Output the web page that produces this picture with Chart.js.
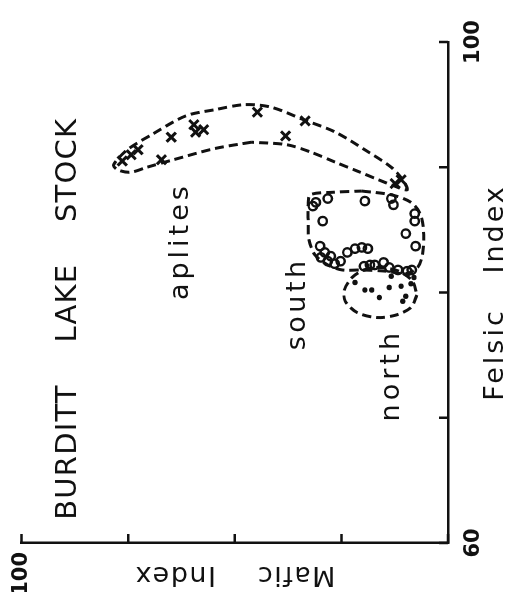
<!doctype html>
<html lang="en">
  <head>
    <meta charset="utf-8">
    <title>Burditt Lake Stock</title>
    <style>
      * { margin: 0; padding: 0; }
      body { width: 506px; height: 592px; overflow: hidden; background: #fff; position: relative; }
      /* the scan is turned a quarter turn: draw the chart upright, then rotate it */
      .turned {
        position: absolute; left: 0; top: 0;
        width: 592px; height: 506px;
        transform-origin: 0 0;
        transform: translate(0, 592px) rotate(-90deg);
      }
    </style>
  </head>
  <body>
    <div class="turned">
      <canvas id="myChart" width="592" height="506"></canvas>
    </div>
    <script src="https://cdn.jsdelivr.net/npm/chart.js"></script>
    <script>
    // axes
    const felsicTicks = [60, 70, 80, 90, 100];
    const felsicTickLabels = ['60', '', '', '', '100'];
    const maficTicks = [0, 25, 50, 75, 100];
    const maficTickLabels = ['', '', '', '', '100'];

    // aplites (x)
    const aplitesFelsic = [90.5, 91.0, 91.4, 90.6, 92.4, 93.4, 92.8, 93.0, 94.4, 93.7, 92.5, 88.7, 89.0];
    const aplitesMafic  = [76.4, 74.3, 72.7, 67.2, 64.9, 59.6, 59.2, 57.3, 44.7, 33.5, 38.1, 12.4, 11.0];

    // south (open circles)
    const southFelsic = [87.2, 87.5, 86.9, 87.3, 87.5, 87.0, 86.3, 85.7, 84.7, 83.7, 85.7, 83.7, 83.2, 82.8, 82.5,
                         82.3, 82.5, 82.9, 83.2, 83.5, 83.6, 83.5, 82.1, 82.2, 82.2, 82.4, 82.0, 81.8, 81.7, 81.8];
    const southMafic  = [31.0, 28.2, 31.7, 19.5, 13.3, 12.8, 7.8, 7.8, 9.9, 7.6, 29.4, 30.0, 28.9, 29.8, 28.2,
                         26.6, 25.2, 27.5, 23.6, 21.8, 20.2, 18.8, 19.7, 18.3, 17.2, 15.1, 13.8, 11.7, 9.6, 8.5];

    // north (dots)
    const northFelsic = [80.8, 80.2, 80.2, 79.6, 80.4, 80.5, 79.7, 81.3, 81.2, 80.7, 79.3];
    const northMafic  = [21.8, 19.5, 17.9, 16.1, 13.8, 11.0, 9.9, 13.3, 8.0, 8.7, 10.6];

    // dashed outlines round each group
    const aplitesLoopFelsic = [92.0, 91.5, 90.6, 90.0, 89.6, 89.8, 90.2, 91.4, 92.6, 94.1, 94.6, 95.0, 94.8,
                               93.8, 92.8, 91.2, 90.0, 89.0, 88.2, 88.6, 89.0, 89.7, 90.4, 91.2, 91.8, 92.0];
    const aplitesLoopMafic  = [46.1, 54.6, 64.4, 70.6, 74.5, 77.5, 78.4, 75.2, 69.5, 61.5, 54.6, 47.7, 41.5,
                               33.9, 26.4, 18.6, 13.3, 10.6, 9.6, 13.3, 16.3, 21.3, 26.4, 32.1, 37.8, 46.1];
    const southLoopFelsic = [88.1, 87.8, 87.2, 86.2, 84.6, 83.0, 82.0, 81.5, 81.7, 81.8, 81.8,
                             82.2, 83.0, 84.2, 85.8, 87.0, 87.8, 88.0, 88.1];
    const southLoopMafic  = [20.2, 13.3, 8.7, 6.4, 5.7, 6.0, 7.1, 9.9, 14.4, 20.2, 24.8,
                             28.2, 31.2, 32.6, 32.8, 32.8, 32.3, 27.1, 20.2];
    const northLoopFelsic = [79.8, 78.8, 78.2, 78.0, 78.4, 79.3, 80.2, 81.2, 81.8, 82.0, 81.7, 80.9, 79.8];
    const northLoopMafic  = [7.3, 8.7, 12.2, 16.7, 21.3, 24.1, 24.3, 22.5, 19.7, 16.1, 11.5, 8.3, 7.3];

    const ink = '#111';
    const face = "'DejaVu Sans', sans-serif";

    const pairs = (xs, ys) => xs.map((v, i) => ({ x: v, y: ys[i] }));

    const loopStyle = {
      showLine: true,
      pointRadius: 0,
      pointHoverRadius: 0,
      borderColor: ink,
      borderWidth: 3,
      borderDash: [9, 5],
      tension: 0.3,
      fill: false
    };

    const data = {
      datasets: [
        { label: 'aplites', data: pairs(aplitesFelsic, aplitesMafic), pointStyle: 'crossRot',
          pointRadius: 6.5, borderColor: ink, borderWidth: 3 },
        { label: 'south', data: pairs(southFelsic, southMafic), pointStyle: 'circle',
          pointRadius: 4.2, borderColor: ink, backgroundColor: 'rgba(0,0,0,0)', borderWidth: 2.4 },
        { label: 'north', data: pairs(northFelsic, northMafic), pointStyle: 'circle',
          pointRadius: 2.7, borderColor: ink, backgroundColor: ink, borderWidth: 0 },
        { label: 'aplites outline', data: pairs(aplitesLoopFelsic, aplitesLoopMafic), ...loopStyle },
        { label: 'south outline', data: pairs(southLoopFelsic, southLoopMafic), ...loopStyle },
        { label: 'north outline', data: pairs(northLoopFelsic, northLoopMafic), ...loopStyle }
      ]
    };

    // words written inside the plot, placed in data units
    const notes = [
      { text: 'BURDITT    LAKE    STOCK', felsic: 77.9, mafic: 87.2, size: 29, spacing: 1.2 },
      { text: 'aplites', felsic: 84.1, mafic: 61.0, size: 27, spacing: 4 },
      { text: 'south', felsic: 79.1, mafic: 33.5, size: 27, spacing: 3.5 },
      { text: 'north', felsic: 73.4, mafic: 11.5, size: 27, spacing: 4 }
    ];

    // tick marks point into the plot
    const innerTicks = {
      id: 'innerTicks',
      afterDatasetsDraw(chart) {
        const { ctx, chartArea: a, scales: { x, y } } = chart;
        ctx.save();
        ctx.strokeStyle = ink;
        ctx.lineWidth = 2.5;
        ctx.beginPath();
        felsicTicks.forEach(v => {
          const px = x.getPixelForValue(v);
          ctx.moveTo(px, a.bottom);
          ctx.lineTo(px, a.bottom - 9);
        });
        maficTicks.forEach(v => {
          const py = y.getPixelForValue(v);
          ctx.moveTo(a.left, py);
          ctx.lineTo(a.left + 9, py);
        });
        ctx.stroke();
        ctx.restore();
      }
    };

    const words = {
      id: 'words',
      afterDraw(chart) {
        const { ctx, chartArea: a, scales: { x, y } } = chart;
        ctx.save();
        ctx.fillStyle = ink;
        ctx.textAlign = 'center';
        ctx.textBaseline = 'alphabetic';
        notes.forEach(n => {
          ctx.font = n.size + 'px ' + face;
          ctx.letterSpacing = n.spacing + 'px';
          ctx.fillText(n.text, x.getPixelForValue(n.felsic), y.getPixelForValue(n.mafic));
        });
        // axis titles
        ctx.font = '27px ' + face;
        ctx.letterSpacing = '3px';
        ctx.fillText('Felsic   Index', (a.left + a.right) / 2, a.bottom + 55);
        ctx.translate(a.left - 24, (a.top + a.bottom) / 2);
        ctx.rotate(-Math.PI / 2);
        ctx.letterSpacing = '1.5px';
        ctx.fillText('Mafic    Index', 0, 0);
        ctx.restore();
      }
    };

    const tickFont = { family: face, size: 21, weight: 'bold' };

    const config = {
      type: 'scatter',
      data,
      options: {
        responsive: false,
        animation: false,
        events: [],
        layout: { padding: { top: 12, right: 42, left: 0, bottom: 0 } },
        plugins: { legend: { display: false }, tooltip: { enabled: false } },
        scales: {
          x: {
            type: 'linear',
            min: 60,
            max: 100,
            afterBuildTicks: s => { s.ticks = felsicTicks.map(v => ({ value: v })); },
            afterFit: s => { s.height = 58; },
            grid: { display: false, drawTicks: false },
            border: { display: true, color: ink, width: 2.5 },
            ticks: {
              color: ink,
              font: tickFont,
              padding: 13,
              maxRotation: 0,
              autoSkip: false,
              callback: v => felsicTickLabels[felsicTicks.indexOf(v)] ?? ''
            }
          },
          y: {
            type: 'linear',
            min: 0,
            max: 100,
            afterBuildTicks: s => { s.ticks = maficTicks.map(v => ({ value: v })); },
            afterFit: s => { s.width = 49; },
            grid: { display: false, drawTicks: false },
            border: { display: true, color: ink, width: 2.5 },
            ticks: {
              color: ink,
              font: tickFont,
              padding: 9,
              autoSkip: false,
              callback: v => maficTickLabels[maficTicks.indexOf(v)] ?? ''
            }
          }
        }
      },
      plugins: [innerTicks, words]
    };

    const myChart = new Chart(document.getElementById('myChart'), config);
    </script>
  </body>
</html>
